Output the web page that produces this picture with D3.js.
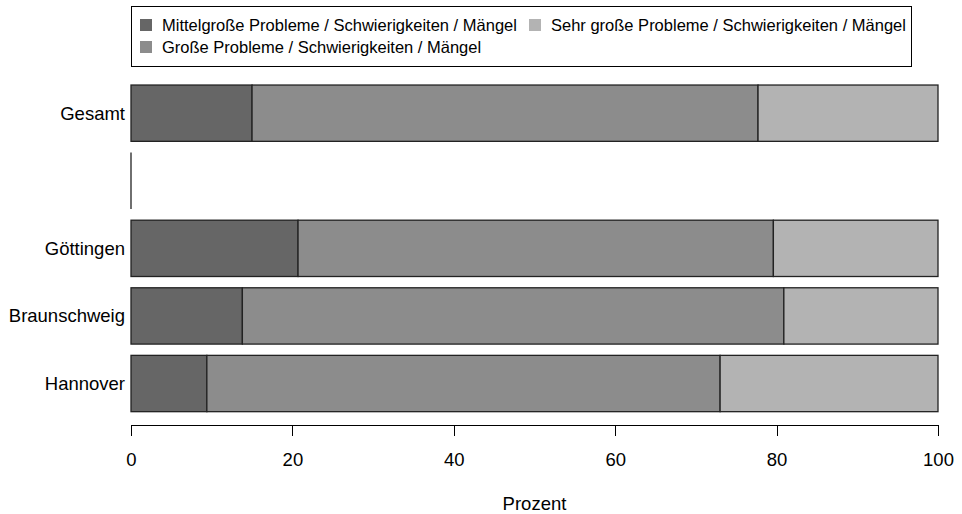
<!DOCTYPE html>
<html lang="en">
<head>
<meta charset="utf-8">
<title>Probleme nach Standort</title>
<script src="https://d3js.org/d3.v7.min.js"></script>
<style>
body { margin: 0; background: #fff; }
svg text { font-family: "Liberation Sans", Arial, sans-serif; fill: #000; }
.axis path, .axis line { stroke: #000; shape-rendering: crispEdges; }
</style>
</head>
<body>
<svg width="962" height="514"></svg>
<script>
// categories (top to bottom); "" is the empty spacer row
var orte = ["Gesamt", "", "Göttingen", "Braunschweig", "Hannover"];
var serien = ["Mittelgroße Probleme / Schwierigkeiten / Mängel",
              "Große Probleme / Schwierigkeiten / Mängel",
              "Sehr große Probleme / Schwierigkeiten / Mängel"];
var mittel   = [15.0, 0, 20.7, 13.8, 9.4];
var gross    = [62.7, 0, 58.9, 67.1, 63.6];
var sehrGross = [22.3, 0, 20.4, 19.1, 27.0];
var xTicks = [0, 20, 40, 60, 80, 100];

var farben = ["#666666", "#8c8c8c", "#b3b3b3"];

var svg = d3.select("svg");

var x = d3.scaleLinear().domain([0, 100]).range([131, 938]);
var y = d3.scaleBand().domain(orte).range([79.4, 417.3])
          .paddingInner(0.1667).paddingOuter(0.0833);

var rows = orte.map(function(o, i) {
  return { ort: o, werte: [mittel[i], gross[i], sehrGross[i]] };
});

var stack = d3.stack().keys([0, 1, 2]).value(function(d, k) { return d.werte[k]; });
var stacked = stack(rows);

svg.append("g").selectAll("g")
  .data(stacked)
  .enter().append("g")
  .attr("fill", function(d, i) { return farben[i]; })
  .selectAll("rect")
  .data(function(d) { return d; })
  .enter().append("rect")
  .filter(function(d) { return d[1] - d[0] > 0; })
  .attr("x", function(d) { return x(d[0]); })
  .attr("y", function(d) { return y(d.data.ort); })
  .attr("width", function(d) { return x(d[1]) - x(d[0]); })
  .attr("height", y.bandwidth())
  .attr("stroke", "#222")
  .attr("stroke-width", 1.3);

// empty rows show only a zero-width bar (a line)
svg.append("g").selectAll("line")
  .data(rows.filter(function(r) { return d3.sum(r.werte) === 0; }))
  .enter().append("line")
  .attr("x1", x(0)).attr("x2", x(0))
  .attr("y1", function(d) { return y(d.ort); })
  .attr("y2", function(d) { return y(d.ort) + y.bandwidth(); })
  .attr("stroke", "#222")
  .attr("stroke-width", 1.3);

// category labels
svg.append("g").selectAll("text")
  .data(orte)
  .enter().append("text")
  .attr("x", 125)
  .attr("y", function(d) { return y(d) + y.bandwidth() / 2; })
  .attr("dy", "0.35em")
  .attr("text-anchor", "end")
  .attr("font-size", "18.5px")
  .text(function(d) { return d; });

// x axis
var xAxis = svg.append("g")
  .attr("class", "axis")
  .attr("transform", "translate(0,425)")
  .call(d3.axisBottom(x).tickValues(xTicks).tickSize(11).tickPadding(17).tickSizeOuter(0));
xAxis.selectAll("text").attr("font-size", "18.5px")
  .style("font-family", "'Liberation Sans', Arial, sans-serif");
xAxis.select(".domain").attr("stroke", "#000");

svg.append("text")
  .attr("x", (x(0) + x(100)) / 2)
  .attr("y", 510)
  .attr("text-anchor", "middle")
  .attr("font-size", "18.5px")
  .text("Prozent");

// legend
var legend = svg.append("g");
legend.append("rect")
  .attr("x", 131.5).attr("y", 6.5)
  .attr("width", 780).attr("height", 60)
  .attr("fill", "#fff").attr("stroke", "#000");

var legPos = [[140, 19], [140, 41], [529, 19]];
var items = legend.selectAll("g.item")
  .data(serien)
  .enter().append("g")
  .attr("class", "item")
  .attr("transform", function(d, i) { return "translate(" + legPos[i][0] + "," + legPos[i][1] + ")"; });
items.append("rect")
  .attr("width", 12).attr("height", 12)
  .attr("fill", function(d, i) { return farben[i]; });
items.append("text")
  .attr("x", 22).attr("y", 6)
  .attr("dy", "0.35em")
  .attr("font-size", "16.5px")
  .text(function(d) { return d; });
</script>
</body>
</html>
